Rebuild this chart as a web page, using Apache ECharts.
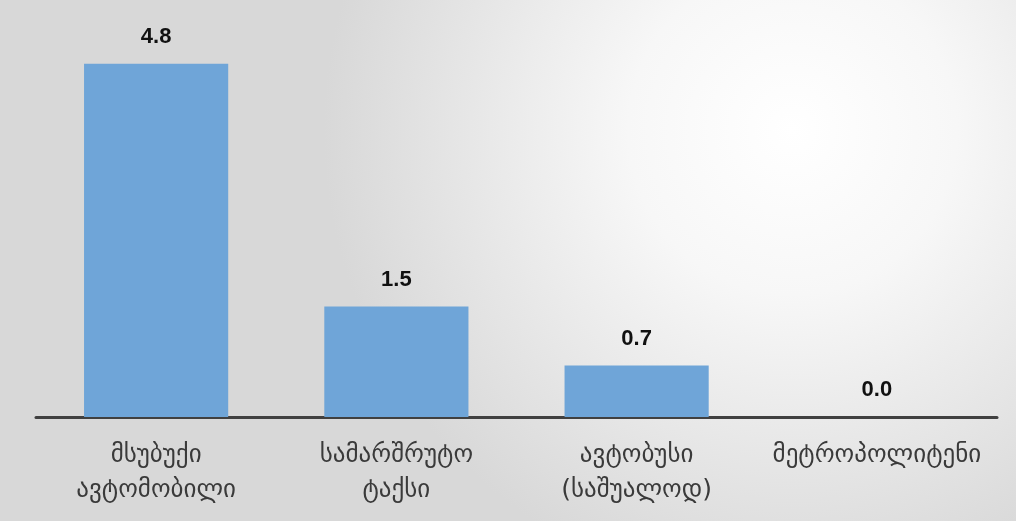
<!DOCTYPE html>
<html><head><meta charset="utf-8">
<script src="https://cdn.jsdelivr.net/npm/echarts@6/dist/echarts.min.js"></script>
<style>html,body{margin:0;padding:0;}#c{width:1016px;height:521px;}</style>
</head><body><div id="c"></div>
<script>
const categories = ["მსუბუქი\nავტომობილი", "სამარშრუტო\nტაქსი", "ავტობუსი\n(საშუალოდ)", "მეტროპოლიტენი"];
const values = [4.8, 1.5, 0.7, 0.0];

const chart = echarts.init(document.getElementById('c'));
chart.setOption({
  backgroundColor: {
    type: 'radial', x: 0.78, y: 0.25, r: 0.9,
    colorStops: [
      {offset: 0, color: '#ffffff'},
      {offset: 0.35, color: '#f7f7f7'},
      {offset: 1, color: '#d8d8d8'}
    ]
  },
  animation: false,
  grid: {left: 36, right: 19, top: 49, bottom: 104},
  xAxis: {
    type: 'category', data: categories,
    axisLine: {lineStyle: {color: '#404040', width: 3}},
    axisTick: {show: false},
    axisLabel: {color: '#3a3a3a', fontSize: 25, fontFamily: 'DejaVu Sans', lineHeight: 35, margin: 21, interval: 0}
  },
  yAxis: {type: 'value', min: 0, max: 5, show: false, splitLine: {show: false}},
  series: [{
    type: 'bar', data: values, barWidth: '60%',
    itemStyle: {color: '#6fa5d8'},
    label: {show: true, position: 'top', distance: 16, color: '#111', fontSize: 22, fontWeight: 'bold',
      fontFamily: 'Liberation Sans', formatter: p => p.value.toFixed(1)}
  }]
});
</script></body></html>
